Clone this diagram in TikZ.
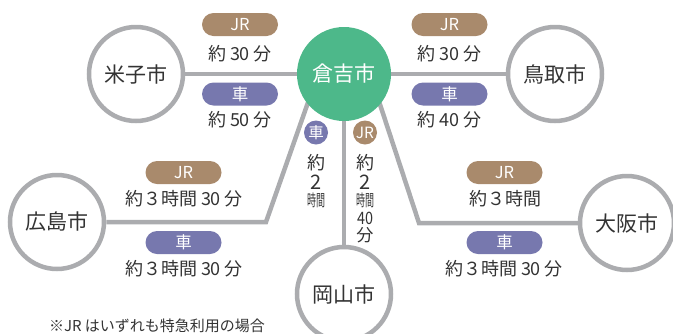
\documentclass[tikz,border=0pt]{standalone}
\usepackage{fontspec}
\setmainfont{Noto Sans CJK JP}
\usetikzlibrary{backgrounds}
\definecolor{kgreen}{HTML}{4DB88A}
\definecolor{kbrown}{HTML}{A98A6C}
\definecolor{kpurple}{HTML}{7778AE}
\definecolor{kgray}{HTML}{ABACAF}
\definecolor{ktext}{HTML}{333333}
\tikzset{
  city/.style={circle, draw=kgray, line width=4.5pt, fill=white, minimum size=94pt, inner sep=0pt, text=ktext, font=\fontsize{21}{21}\selectfont},
  hub/.style={circle, fill=kgreen, minimum size=94pt, inner sep=0pt, text=white, font=\fontsize{21}{21}\selectfont},
  conn/.style={draw=kgray, line width=4.5pt},
  pill/.style={rectangle, rounded corners=11.5pt, minimum width=76pt, minimum height=23pt, inner sep=0pt, text=white, font=\fontsize{16.5}{16.5}\selectfont},
  jrpill/.style={pill, fill=kbrown},
  carpill/.style={pill, fill=kpurple},
  dot/.style={circle, minimum size=24pt, inner sep=0pt, text=white, font=\fontsize{15.5}{15.5}\selectfont},
  lbl/.style={text=ktext, inner sep=0pt, font=\fontsize{18}{18}\selectfont},
  vlbl/.style={text=ktext, inner sep=0pt, font=\fontsize{18}{18}\selectfont},
  vnum/.style={text=ktext, inner sep=0pt, font=\fontsize{20}{20}\selectfont},
  note/.style={text=ktext, inner sep=0pt, font=\fontsize{15}{15}\selectfont}
}
\newcommand{\narrowjikan}{\scalebox{0.5}[0.9]{時間}}
\newcommand{\gp}{\hspace{4pt}}
\begin{document}
\begin{tikzpicture}[x=1pt,y=-1pt]
\clip (0,0) rectangle (673,333);
% nodes
\node[hub] (kura) at (344,74) {倉吉市};
\node[city] (yonago) at (136,74) {米子市};
\node[city] (tottori) at (555,74) {鳥取市};
\node[city] (hiro) at (57,222) {広島市};
\node[city] (osaka) at (627,223) {大阪市};
\node[city] (okayama) at (344,294) {岡山市};
\coordinate (hl0) at (318,74);
\coordinate (hl1) at (266,222);
\coordinate (ol0) at (370,74);
\coordinate (ol1) at (419,223);
% connectors
\begin{scope}[on background layer]
\draw[conn] (yonago) -- (kura);
\draw[conn] (kura) -- (tottori);
\draw[conn] (kura) -- (okayama);
\draw[conn] (hl0) -- (hl1) -- (hiro);
\draw[conn] (ol0) -- (ol1) -- (osaka);
\end{scope}
% labels left-top
\node[jrpill] (jr1) at (240,24.5) {JR};
\node[lbl] (t1) at (240,54) {約\gp 30\gp 分};
\node[carpill] (car1) at (240,94) {車};
\node[lbl] (t2) at (240,120) {約\gp 50\gp 分};
% right-top
\node[jrpill] (jr2) at (449.5,24.5) {JR};
\node[lbl] (t3) at (449.5,54) {約\gp 30\gp 分};
\node[carpill] (car2) at (449.5,94) {車};
\node[lbl] (t4) at (449.5,120) {約\gp 40\gp 分};
% lower-left
\node[jrpill] (jr3) at (183.5,172.5) {JR};
\node[lbl] (t5) at (184,199) {約３時間\gp 30\gp 分};
\node[carpill] (car3) at (183.5,242.5) {車};
\node[lbl] (t6) at (184,269) {約３時間\gp 30\gp 分};
% lower-right
\node[jrpill] (jr4) at (504.5,172.5) {JR};
\node[lbl] (t7) at (505,199) {約３時間};
\node[carpill] (car4) at (504.5,242.5) {車};
\node[lbl] (t8) at (504,269) {約３時間\gp 30\gp 分};
% vertical labels
\node[dot, fill=kpurple] (car5) at (316,132.5) {車};
\node[vlbl] (v1) at (316,163) {約};
\node[vnum] (v2) at (316,182.5) {2};
\node[vlbl] (v3) at (316,200) {\narrowjikan};
\node[dot, fill=kbrown] (jr5) at (365,132.5) {JR};
\node[vlbl] (w1) at (365,163) {約};
\node[vnum] (w2) at (365,182.5) {2};
\node[vlbl] (w3) at (365,200) {\narrowjikan};
\node[vlbl] (w4) at (365,218) {\scalebox{0.8}[0.95]{40}};
\node[vlbl] (w5) at (365,235) {\scalebox{0.95}{分}};
% note
\node[note] (nt) at (157,326) {※JR はいずれも特急利用の場合};
\end{tikzpicture}
\end{document}
